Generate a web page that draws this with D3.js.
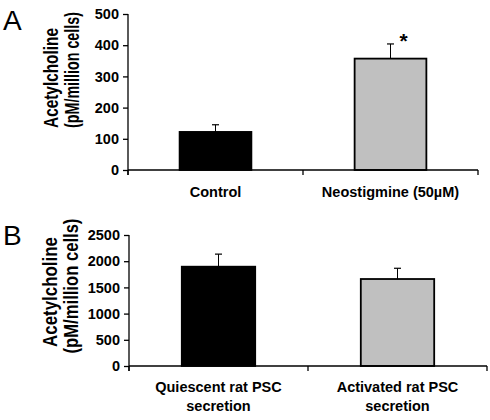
<!DOCTYPE html>
<html><head><meta charset="utf-8">
<script src="https://cdn.jsdelivr.net/npm/d3@7"></script>
<style>body{margin:0;background:#fff}svg{display:block}text{font-family:"Liberation Sans",Arial,sans-serif}</style>
</head><body>
<svg id="c" width="490" height="420"></svg>
<script>
// Panel A data
const catsA = ["Control", "Neostigmine (50µM)"];
const valsA = [122, 357];
const errA = [23, 47];
const sigA = ["", "*"];
const ticksA = [0, 100, 200, 300, 400, 500];
// Panel B data
const catsB = [["Quiescent rat PSC", "secretion"], ["Activated rat PSC", "secretion"]];
const valsB = [1895, 1660];
const errB = [240, 205];
const ticksB = [0, 500, 1000, 1500, 2000, 2500];
const titleLines = ["Acetylcholine", "(pM/million cells)"];
const fills = ["#000000", "#c0c0c0"];

const svg = d3.select("#c");
const FF = '"Liberation Sans",Arial,sans-serif';

function panel(o) {
  const g = svg.append("g");
  const y = d3.scaleLinear().domain([0, o.max]).range([o.y0, o.y1]);
  const x = d3.scaleBand().domain(d3.range(o.vals.length)).range([o.x0, o.x1]);
  const bw = x.bandwidth() * 0.41;
  // y axis
  const ya = g.append("g").attr("transform", `translate(${o.x0},0)`)
    .call(d3.axisLeft(y).tickValues(o.ticks).tickFormat(d3.format("d")).tickSize(5).tickPadding(4));
  ya.select(".domain").attr("d", `M0,${o.y1}V${o.y0 + 5}`).attr("stroke", "#000").attr("stroke-width", 1.3);
  ya.selectAll(".tick line").attr("stroke", "#000").attr("stroke-width", 1.3);
  ya.selectAll(".tick text").attr("font-size", 14.5).attr("font-weight", "bold").attr("fill", "#000")
    .attr("font-family", FF);
  // bars
  g.selectAll("rect.bar").data(o.vals).enter().append("rect")
    .attr("x", (d, i) => x(i) + x.bandwidth() / 2 - bw / 2)
    .attr("y", d => y(d)).attr("width", bw).attr("height", d => o.y0 - y(d))
    .attr("fill", (d, i) => fills[i]).attr("stroke", "#000").attr("stroke-width", 1.8);
  // error bars
  o.vals.forEach((v, i) => {
    const cx = x(i) + x.bandwidth() / 2;
    g.append("line").attr("x1", cx).attr("x2", cx).attr("y1", y(v)).attr("y2", y(v + o.err[i])).attr("stroke", "#000").attr("stroke-width", 1);
    g.append("line").attr("x1", cx - 3.5).attr("x2", cx + 3.5).attr("y1", y(v + o.err[i])).attr("y2", y(v + o.err[i])).attr("stroke", "#000").attr("stroke-width", 1.2);
    if (o.sig && o.sig[i]) {
      g.append("text").attr("x", cx + 13).attr("y", y(v + o.err[i]) + 4).attr("text-anchor", "middle")
        .attr("font-size", 21).attr("font-weight", "bold").text(o.sig[i]);
    }
  });
  // x axis
  g.append("line").attr("x1", o.x0).attr("x2", o.x1).attr("y1", o.y0).attr("y2", o.y0).attr("stroke", "#000").attr("stroke-width", 1.3);
  const bounds = d3.range(o.vals.length + 1).map(i => i < o.vals.length ? x(i) : o.x1);
  g.selectAll("line.xt").data(bounds).enter().append("line").attr("class", "xt")
    .attr("x1", d => d).attr("x2", d => d).attr("y1", o.y0).attr("y2", o.y0 + 5).attr("stroke", "#000").attr("stroke-width", 1.3);
  // category labels
  o.cats.forEach((c, i) => {
    const lines = Array.isArray(c) ? c : [c];
    const t = g.append("text").attr("x", x(i) + x.bandwidth() / 2).attr("y", o.labY).attr("text-anchor", "middle")
      .attr("font-size", 14.5).attr("font-weight", "bold");
    lines.forEach((l, j) => t.append("tspan").attr("x", x(i) + x.bandwidth() / 2).attr("dy", j ? 19 : 0).text(l));
  });
  // y title (condensed, two lines) — condensed with a scale transform
  titleLines.forEach((l, j) => {
    const t = g.append("text").attr("text-anchor", "middle").attr("font-size", 20).attr("font-weight", "bold").text(l);
    const w = t.node().getComputedTextLength();
    const sx = o.titleLen[j] / w;
    t.attr("transform", `translate(${o.titleX[j]},${o.titleC[j]}) rotate(-90) scale(${sx},1)`);
  });
  // panel letter
  g.append("text").attr("x", 3).attr("y", o.letterY).attr("font-size", 28).text(o.letter);
}

panel({ vals: valsA, err: errA, sig: sigA, cats: catsA, ticks: ticksA, max: 500,
  x0: 128, x1: 478, y0: 170, y1: 14, labY: 197,
  titleX: [58, 79], titleC: [78, 70], titleLen: [100, 116], letter: "A", letterY: 30 });
panel({ vals: valsB, err: errB, cats: catsB, ticks: ticksB, max: 2500,
  x0: 129, x1: 487, y0: 366, y1: 235, labY: 392,
  titleX: [57, 78], titleC: [292, 286], titleLen: [110, 135], letter: "B", letterY: 245 });
</script>
</body></html>
